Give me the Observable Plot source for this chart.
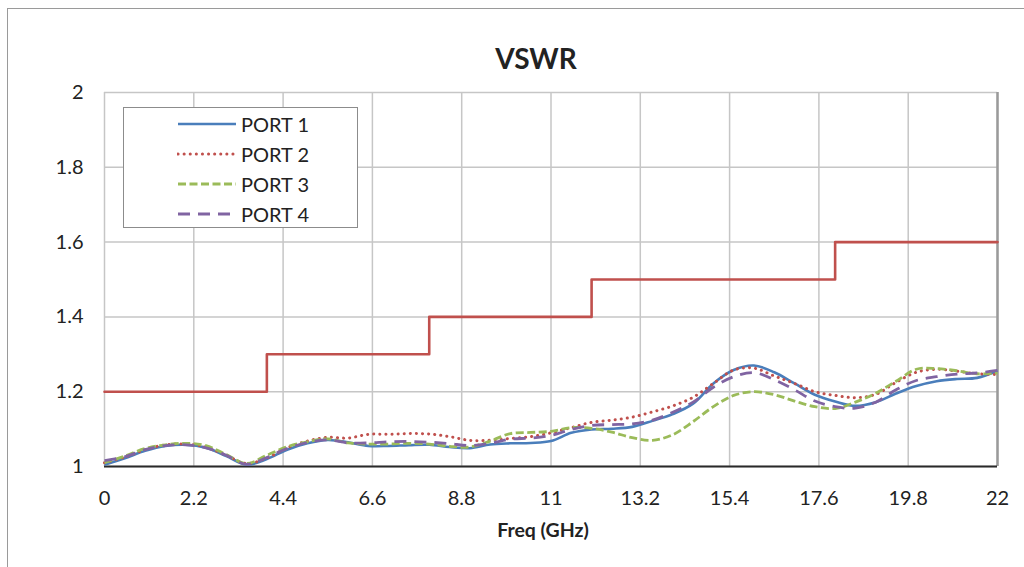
<!DOCTYPE html>
<html><head><meta charset="utf-8">
<script src="https://cdn.jsdelivr.net/npm/d3@7"></script>
<script src="https://cdn.jsdelivr.net/npm/@observablehq/plot@0.6"></script>
<style>
body{margin:0;background:#fff;font-family:Lato,"Open Sans",sans-serif;}
#wrap{position:relative;width:1024px;height:567px;overflow:hidden;background:#fff;}
#border{position:absolute;left:7px;top:8px;width:1100px;height:700px;border-left:1.5px solid #9a9a9a;border-top:1.5px solid #9a9a9a;}
#chart{position:absolute;left:0;top:0;}
#chart svg text{font-size:20px;}
#title{position:absolute;top:41px;left:436px;width:200px;text-align:center;font-weight:bold;font-size:28px;color:#222;}
#xlabel{position:absolute;top:520px;left:443px;width:200px;text-align:center;font-weight:bold;font-size:19.5px;line-height:1;color:#222;}
#legend{position:absolute;left:123px;top:107px;width:235px;height:121px;background:#fff;border:1px solid #8c8c8c;box-sizing:border-box;}
.row{position:absolute;left:0;height:30px;}
.row svg{position:absolute;left:53px;}
.row span{position:absolute;left:117px;font-size:20px;color:#222;white-space:nowrap;line-height:30px;top:0;}
</style>
</head><body>
<div id="wrap">
  <div id="border"></div>
  <div id="chart"></div>
  <div id="title">VSWR</div>
  <div id="xlabel">Freq (GHz)</div>
  <div id="legend"></div>
</div>
<script>
const freq = [0,0.5,1,1.5,2,2.5,3,3.5,4,4.5,5,5.5,6,6.5,7,7.5,8,8.5,9,9.5,10,10.5,11,11.5,12,12.5,13,13.5,14,14.5,15,15.5,16,16.5,17,17.5,18,18.5,19,19.5,20,20.5,21,21.5,22];
const port1 = [1.005,1.022,1.042,1.055,1.058,1.050,1.028,1.005,1.020,1.045,1.062,1.071,1.065,1.055,1.055,1.057,1.058,1.052,1.049,1.059,1.062,1.063,1.068,1.090,1.099,1.101,1.106,1.122,1.140,1.168,1.222,1.258,1.270,1.252,1.222,1.192,1.174,1.162,1.172,1.195,1.215,1.228,1.234,1.237,1.256];
const port2 = [1.010,1.025,1.045,1.058,1.060,1.052,1.030,1.008,1.023,1.050,1.068,1.078,1.076,1.086,1.086,1.088,1.087,1.080,1.070,1.070,1.075,1.080,1.090,1.104,1.118,1.124,1.132,1.146,1.162,1.185,1.222,1.258,1.263,1.242,1.222,1.200,1.190,1.184,1.193,1.225,1.252,1.260,1.255,1.248,1.246];
const port3 = [1.010,1.028,1.048,1.058,1.062,1.056,1.032,1.008,1.030,1.053,1.066,1.074,1.063,1.060,1.060,1.062,1.060,1.054,1.052,1.068,1.088,1.091,1.094,1.104,1.102,1.092,1.077,1.070,1.085,1.120,1.160,1.190,1.200,1.192,1.175,1.160,1.155,1.172,1.196,1.228,1.260,1.262,1.256,1.248,1.250];
const port4 = [1.016,1.026,1.045,1.056,1.058,1.050,1.030,1.006,1.024,1.048,1.064,1.071,1.063,1.063,1.066,1.067,1.065,1.061,1.056,1.062,1.073,1.076,1.083,1.099,1.110,1.112,1.114,1.124,1.145,1.172,1.212,1.240,1.251,1.232,1.205,1.175,1.160,1.156,1.172,1.205,1.230,1.240,1.247,1.250,1.257];
const seriesNames = ["PORT 1","PORT 2","PORT 3","PORT 4"];
const limitFreq = [0,4,8,12,18,22];
const limitVswr = [1.2,1.3,1.4,1.5,1.6,1.6];
const xTicks = [0,2.2,4.4,6.6,8.8,11,13.2,15.4,17.6,19.8,22];
const xTickLabels = ["0","2.2","4.4","6.6","8.8","11","13.2","15.4","17.6","19.8","22"];
const yTicks = [1,1.2,1.4,1.6,1.8,2];
const yTickLabels = ["1","1.2","1.4","1.6","1.8","2"];

// styles (kept separate from data)
const seriesStyle = [
  {stroke:"#4A7EBB", dash:null, cap:"butt", width:2.6},
  {stroke:"#C0504D", dash:"0.1,6", cap:"round", width:3},
  {stroke:"#9BBB59", dash:"8,3.5", cap:"butt", width:2.8},
  {stroke:"#8064A2", dash:"12,8", cap:"butt", width:2.8}
];
const limitColor = "#C0504D";

const allValues = [port1, port2, port3, port4];
const rowsFor = (vals, name) => freq.map((f, i) => ({f, v: vals[i], s: name}));
const limitRows = limitFreq.map((f, i) => ({f, v: limitVswr[i]}));

const marks = [
  Plot.gridX(xTicks, {stroke:"#c6c6c6", strokeOpacity:1, strokeWidth:1.5}),
  Plot.gridY(yTicks, {stroke:"#c6c6c6", strokeOpacity:1, strokeWidth:1.5}),
  Plot.ruleX([22], {stroke:"#9a9a9a", strokeWidth:2.5}),
  Plot.ruleY([1], {stroke:"#2a2a2a", strokeWidth:2}),
  Plot.line(limitRows, {x:"f", y:"v", curve:"step-after", stroke:limitColor, strokeWidth:2.6})
];
allValues.forEach((vals, k) => {
  const st = seriesStyle[k];
  marks.push(Plot.line(rowsFor(vals, seriesNames[k]), {
    x:"f", y:"v", curve:"catmull-rom", stroke:st.stroke, strokeWidth:st.width,
    strokeDasharray: st.dash || undefined, strokeLinecap: st.cap
  }));
});
marks.push(Plot.axisX({ticks:xTicks, tickFormat:d => xTickLabels[xTicks.indexOf(d)], tickSize:0, tickPadding:24, fontSize:20, fill:"#222", label:null}));
marks.push(Plot.axisY({ticks:yTicks, tickFormat:d => yTickLabels[yTicks.findIndex(t => Math.abs(t-d)<1e-9)], tickSize:0, tickPadding:21, fontSize:20, fill:"#222", label:null}));

const chart = Plot.plot({
  width:1024, height:567,
  marginLeft:104, marginRight:27, marginTop:92, marginBottom:101,
  x:{domain:[0,22]}, y:{domain:[1,2]},
  style:{fontFamily:"Lato, 'Open Sans', sans-serif", fontSize:"20px", background:"transparent", overflow:"visible"},
  marks
});
document.getElementById("chart").appendChild(chart);

// legend
const lg = document.getElementById("legend");
seriesNames.forEach((name, k) => {
  const st = seriesStyle[k];
  const row = document.createElement("div");
  row.className = "row";
  row.style.top = (1 + k*30) + "px";
  row.style.width = "232px";
  const ns = "http://www.w3.org/2000/svg";
  const svg = document.createElementNS(ns, "svg");
  svg.setAttribute("width", "62"); svg.setAttribute("height", "30");
  svg.style.top = "0px";
  const ln = document.createElementNS(ns, "line");
  ln.setAttribute("x1", "1"); ln.setAttribute("x2", "59");
  ln.setAttribute("y1", "15"); ln.setAttribute("y2", "15");
  ln.setAttribute("stroke", st.stroke); ln.setAttribute("stroke-width", st.width);
  if (st.dash) ln.setAttribute("stroke-dasharray", st.dash);
  ln.setAttribute("stroke-linecap", st.cap);
  svg.appendChild(ln);
  const sp = document.createElement("span");
  sp.textContent = name;
  row.appendChild(svg); row.appendChild(sp);
  lg.appendChild(row);
});
</script>
</body></html>
